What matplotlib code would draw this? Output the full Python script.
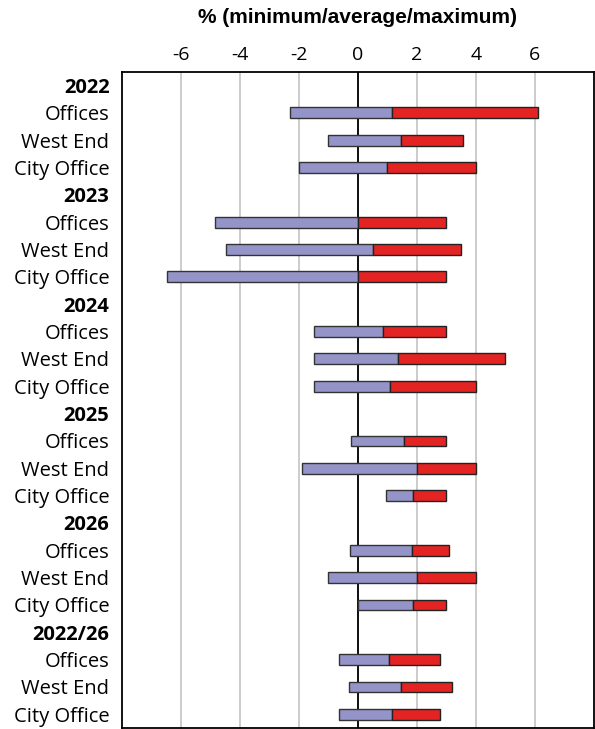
import numpy as np
import matplotlib
matplotlib.use("Agg")
import matplotlib.pyplot as plt

plt.rcParams['font.family'] = ['Liberation Sans', 'DejaVu Sans']
plt.rcParams['axes.unicode_minus'] = False

# Data: minimum / average / maximum, %
groups = ['2022', '2023', '2024', '2025', '2026', '2022/26']
markets = ['Offices', 'West End', 'City Office']
minimum = [-2.3, -1.0, -2.0,
           -4.83, -4.47, -6.48,
           -1.5, -1.5, -1.5,
           -0.25, -1.9, 0.95,
           -0.28, -1.0, 0.0,
           -0.65, -0.3, -0.65]
average = [1.15, 1.45, 1.0,
           0.0, 0.5, 0.0,
           0.85, 1.37, 1.1,
           1.58, 2.0, 1.88,
           1.82, 2.02, 1.88,
           1.06, 1.47, 1.15]
maximum = [6.1, 3.55, 4.0,
           3.0, 3.5, 3.0,
           3.0, 5.0, 4.0,
           3.0, 4.0, 3.0,
           3.1, 4.0, 3.0,
           2.8, 3.2, 2.8]

# Build row layout: header row per group then one row per market
labels, bold, bar_pos = [], [], []
row = 0
for g in groups:
    labels.append(g)
    bold.append(True)
    row += 1
    for m in markets:
        labels.append(m)
        bold.append(False)
        bar_pos.append(row)
        row += 1

minimum = np.array(minimum)
average = np.array(average)
maximum = np.array(maximum)

fig = plt.figure(figsize=(5.95, 7.29), dpi=100)
ax = fig.add_axes([0.205, 0.0014, 0.793, 0.8999])

ax.barh(bar_pos, average - minimum, left=minimum, height=0.4,
        color='#9494c9', edgecolor='#333333', linewidth=1.0, zorder=3)
ax.barh(bar_pos, maximum - average, left=average, height=0.4,
        color='#e32422', edgecolor='#222222', linewidth=1.0, zorder=3)

ax.axvline(0, color='black', linewidth=1.3, zorder=2)
ax.set_xlim(-8, 8)
ax.set_ylim(len(labels) - 0.5, -0.5)
ax.set_xticks([-6, -4, -2, 0, 2, 4, 6])
ax.xaxis.tick_top()
ax.tick_params(axis='x', length=0, pad=6)
for t in ax.get_xticklabels():
    t.set_fontfamily(['Open Sans', 'DejaVu Sans'])
    t.set_fontsize(14)
ax.grid(axis='x', color='#c8c8c8', linewidth=1.3, zorder=0)
ax.set_axisbelow(True)

ax.set_yticks(range(len(labels)))
ax.set_yticklabels(labels)
ax.tick_params(axis='y', length=0, pad=9)
for t, b in zip(ax.get_yticklabels(), bold):
    t.set_fontfamily(['Open Sans', 'DejaVu Sans'])
    t.set_fontsize(14.5)
    if b:
        t.set_fontweight('bold')

for s in ax.spines.values():
    s.set_linewidth(1.3)
    s.set_color('black')

ax.set_title('% (minimum/average/maximum)', fontsize=15, fontweight='bold', pad=35)

fig.savefig('out.png', dpi=100)
